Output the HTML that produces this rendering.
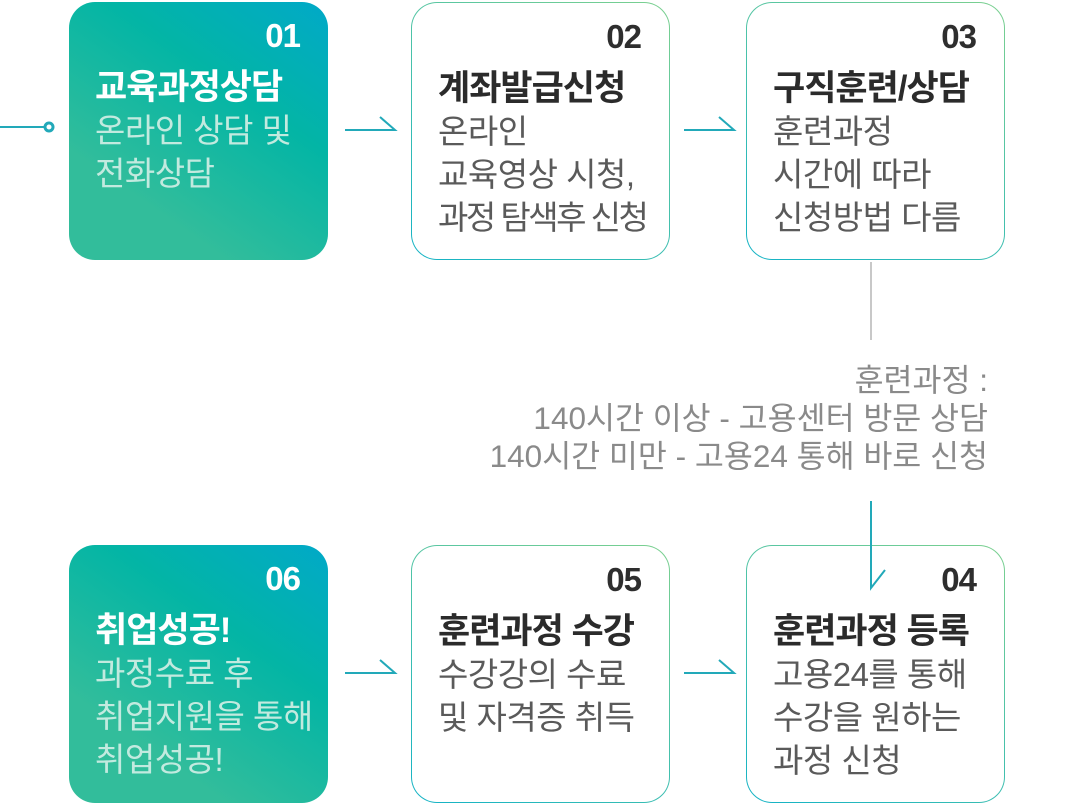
<!DOCTYPE html>
<html><head><meta charset="utf-8"><style>
body{margin:0;width:1080px;height:811px;background:#fff;position:relative;overflow:hidden;font-family:"Liberation Sans","Noto Sans CJK KR",sans-serif;}
.box{position:absolute;width:259px;height:258px;border-radius:26px;box-sizing:border-box;}
.w{border:1.5px solid transparent;background:linear-gradient(#fff,#fff) padding-box,linear-gradient(30deg,#14b3c6,#7cd08f) border-box;}
.g{background:linear-gradient(215deg,#01a9c8 0%,#03b5a5 35%,#32bd9b 75%);}
.num{position:absolute;right:28px;top:15px;font-size:33px;font-weight:bold;color:#2e2e2e;letter-spacing:-1px;}
.t{position:absolute;left:26px;top:57px;font-size:35px;font-weight:bold;color:#2b2b2b;letter-spacing:-1px;white-space:nowrap;}
.b{position:absolute;left:26px;top:107px;font-size:33px;line-height:43px;color:#5a5a5a;white-space:nowrap;letter-spacing:-0.5px;}
.g .num,.g .t{color:#fff}
.g .b{color:#c2eadf}
.note{position:absolute;right:92px;top:361px;text-align:right;font-size:31.5px;line-height:38px;color:#8a8a8a;white-space:nowrap;}
</style></head><body>
<div class="box g" style="left:69px;top:2px"><div class="num">01</div><div class="t">교육과정상담</div><div class="b">온라인 상담 및<br>전화상담</div></div>
<div class="box w" style="left:411px;top:2px"><div class="num">02</div><div class="t">계좌발급신청</div><div class="b">온라인<br>교육영상 시청,<br><span style="letter-spacing:-2.5px">과정 탐색후 신청</span></div></div>
<div class="box w" style="left:746px;top:2px"><div class="num">03</div><div class="t">구직훈련/상담</div><div class="b">훈련과정<br>시간에 따라<br>신청방법 다름</div></div>
<div class="note">훈련과정 :<br>140시간 이상 - 고용센터 방문 상담<br>140시간 미만 - 고용24 통해 바로 신청</div>
<div class="box g" style="left:69px;top:545px"><div class="num">06</div><div class="t">취업성공!</div><div class="b">과정수료 후<br>취업지원을 통해<br>취업성공!</div></div>
<div class="box w" style="left:411px;top:545px"><div class="num">05</div><div class="t">훈련과정 수강</div><div class="b">수강강의 수료<br>및 자격증 취득</div></div>
<div class="box w" style="left:746px;top:545px"><div class="num">04</div><div class="t">훈련과정 등록</div><div class="b">고용24를 통해<br>수강을 원하는<br>과정 신청</div></div>
<svg width="1080" height="811" style="position:absolute;left:0;top:0">
<g stroke="#22a9b9" stroke-width="2" fill="none">
<line x1="0" y1="127" x2="44" y2="127"/>
<circle cx="49" cy="127" r="4" fill="#fff" stroke-width="3"/>
<path d="M345 130H395L380 117"/>
<path d="M684 130H734L719 117"/>
<path d="M345 673H395L380 660"/>
<path d="M684 673H734L719 660"/>
<path d="M871 501V588L885 570"/>
</g>
<line x1="871" y1="262" x2="871" y2="340" stroke="#c8c8c8" stroke-width="2"/>
</svg>
</body></html>
